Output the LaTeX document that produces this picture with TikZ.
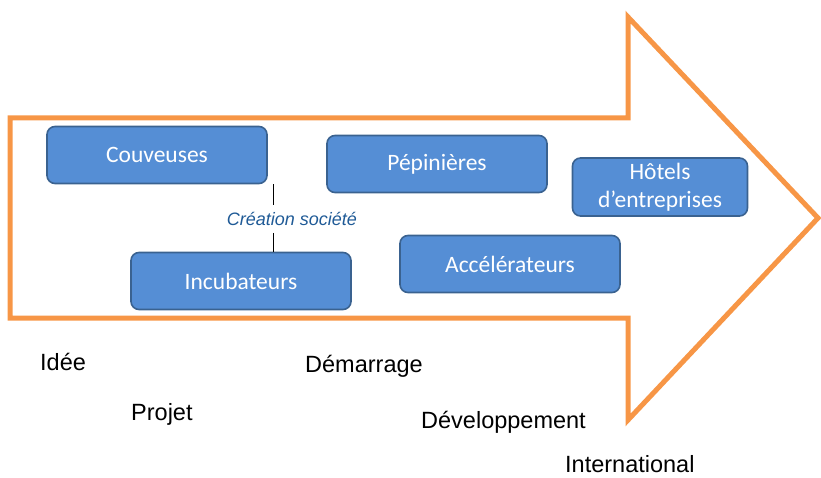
\documentclass[tikz,border=0pt]{standalone}
\usepackage{fontspec}
\setmainfont{Liberation Sans}
\newfontfamily\calibri{Carlito}
\usepackage{xcolor}
\usepackage{tikz}
\definecolor{arroworange}{HTML}{F79646}
\definecolor{boxfill}{HTML}{558ED5}
\definecolor{boxline}{HTML}{3A6290}
\definecolor{notecol}{HTML}{1F5A96}

\begin{document}
\begin{tikzpicture}[
    x=1pt, y=-1pt,
    box/.style={
        draw=boxline, fill=boxfill, line width=1.6pt,
        rounded corners=8pt,
        minimum width=220pt, minimum height=57pt,
        text=white, align=center,
        font=\calibri\fontsize{23.5}{28}\selectfont
    },
    stage/.style={anchor=west, inner sep=0pt, font=\fontsize{23.5}{28}\selectfont},
    note/.style={text=notecol, inner sep=7pt, font=\itshape\fontsize{18}{22}\selectfont}
]
\useasboundingbox (0,0) rectangle (821,478);
% big arrow
\draw[arroworange, line width=5pt, line join=miter]
    (10,118) -- (628,118) -- (628,17) -- (818,218) -- (628,420) -- (628,318) -- (10,318) -- cycle;

\node[box] (couv) at (157,155) {Couveuses};
\node[box] (pepi) at (437,164) {Pépinières};
\node[box, minimum width=175pt, minimum height=58pt] (hotel) at (660,187) {Hôtels\\d’entreprises};
\node[box] (incu) at (241,281) {Incubateurs};
\node[box] (acce) at (510,264) {Accélérateurs};

\node[note] (crea) at (292,219) {Création société};
\coordinate (lx) at (273,0);
\draw[line width=0.8pt] (couv.south -| lx) -- (crea.north -| lx);
\draw[line width=0.8pt] (crea.south -| lx) -- (incu.north -| lx);

\node[stage] (idee) at (40,362) {Idée};
\node[stage] (proj) at (131,414) {Projet};
\node[stage] (dema) at (305,366) {Démarrage};
\node[stage] (deve) at (421,422) {Développement};
\node[stage] (inte) at (565,464) {International};
\end{tikzpicture}
\end{document}
